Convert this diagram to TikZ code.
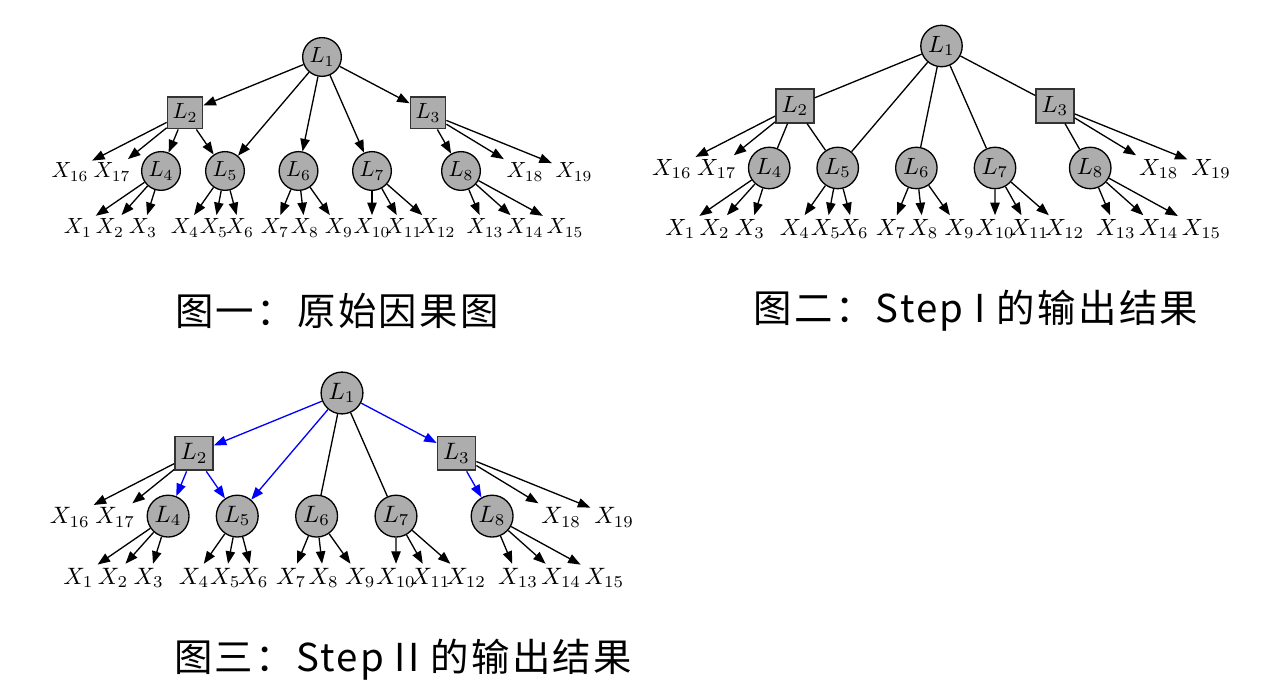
\documentclass[tikz,border=0pt]{standalone}
\usepackage{fontspec}
\newfontfamily\cjk[LetterSpace=6]{Noto Sans CJK SC}
\usetikzlibrary{arrows.meta}

% one causal tree, L1 at the origin
\newcommand{\causaltree}{%
  \node[latent] (L1) at (0,0) {$L_1$};
  \node[proxy] (L2) at (-137,56) {$L_2$};
  \node[proxy] (L3) at (106,56) {$L_3$};
  \foreach \i/\x in {4/-161,5/-97,6/-23.5,7/50,8/139}
    \node[latent] (L\i) at (\x,114) {$L_{\i}$};
  \foreach \i/\x in {16/-252,17/-210,18/203,19/252}
    \node[obs] (X\i) at (\x,115) {$X_{\i}$};
  \foreach \i/\x in {1/-244,2/-212,3/-179,4/-137,5/-108,6/-82,7/-47,8/-17,9/17,10/50,11/82,12/115,13/163,14/203,15/243}
    \node[obs] (X\i) at (\x,171) {$X_{\i}$};
  % structure between latent variables
  \draw[oriented] (L1) -- (L2);
  \draw[oriented] (L1) -- (L5);
  \draw[pending] (L1) -- (L6);
  \draw[pending] (L1) -- (L7);
  \draw[oriented] (L1) -- (L3);
  \draw[oriented] (L2) -- (L4);
  \draw[oriented] (L2) -- (L5);
  \draw[oriented] (L3) -- (L8);
  % measurement edges
  \draw[arrow] (L2) -- (X16);
  \draw[arrow] (L2) -- (X17);
  \draw[arrow] (L3) -- (X18);
  \draw[arrow] (L3) -- (X19);
  \foreach \l/\a/\b/\c in {4/1/2/3,5/4/5/6,6/7/8/9,7/10/11/12,8/13/14/15}{
    \draw[arrow] (L\l) -- (X\a);
    \draw[arrow] (L\l) -- (X\b);
    \draw[arrow] (L\l) -- (X\c);
  }%
}

\begin{document}
\begin{tikzpicture}[
    x=0.016cm, y=-0.016cm,
    latent/.style={circle, draw, fill=black!32, minimum size=0.62cm, inner sep=0pt, semithick},
    proxy/.style={rectangle, draw=black!80, fill=black!32, minimum width=0.56cm, minimum height=0.5cm, inner sep=0pt, thick},
    obs/.style={inner sep=1.5pt},
    arrow/.style={-{Triangle[length=2mm, width=1.5mm]}, semithick},
    plain/.style={semithick},
    caption/.style={font=\cjk\fontsize{17.5}{20}\selectfont},
]
\useasboundingbox (0,0) rectangle (1266,688);

% original graph
\begin{scope}[shift={(322,57)}, transform shape, name prefix=a-,
    oriented/.style={arrow}, pending/.style={arrow}]
  \causaltree
\end{scope}
\node[caption] (capa) at (337,311) {图一：原始因果图};

% after step I
\begin{scope}[shift={(941.5,46)}, scale=1.07, transform shape, name prefix=b-,
    oriented/.style={plain}, pending/.style={plain}]
  \causaltree
\end{scope}
\node[caption] (capb) at (976,311) {图二：Step I 的输出结果};

% after step II
\begin{scope}[shift={(342,393)}, scale=1.08, transform shape, name prefix=c-,
    oriented/.style={arrow, blue}, pending/.style={plain}]
  \causaltree
\end{scope}
\node[caption] (capc) at (403,660) {图三：Step II 的输出结果};

\end{tikzpicture}
\end{document}
